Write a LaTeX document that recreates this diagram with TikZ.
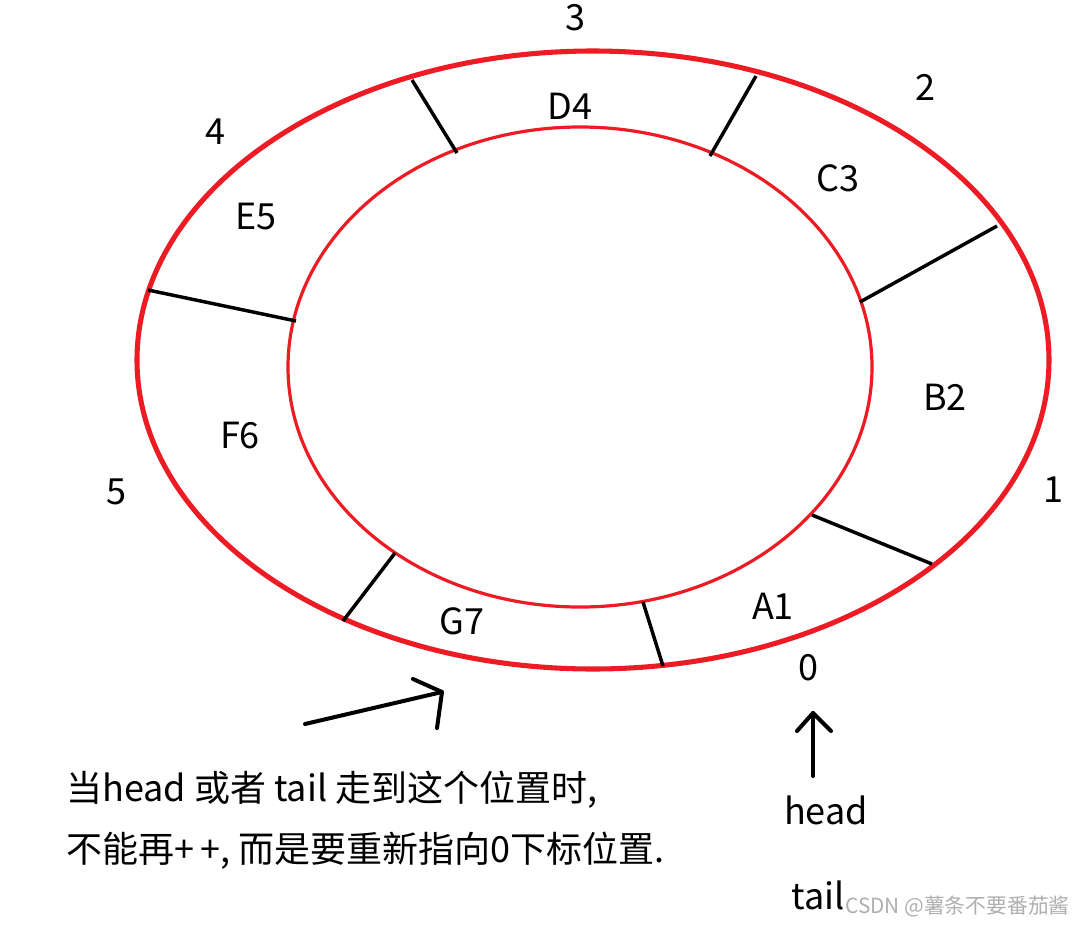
\documentclass[tikz,border=0pt]{standalone}
\usepackage{fontspec}
\setmainfont{Noto Sans CJK SC}
\newfontfamily\cjk{Noto Sans CJK SC}
\definecolor{pred}{RGB}{237,28,36}
\definecolor{wm}{RGB}{175,175,175}
\begin{document}
\begin{tikzpicture}[x=0.75pt,y=-0.75pt,
  lbl/.style={inner sep=0pt,font=\fontsize{27}{32}\selectfont},
  txt/.style={inner sep=0pt,anchor=west,font=\cjk\fontsize{27}{32}\selectfont},
  ring/.style={draw=pred},
  divider/.style={draw=black,line width=2.6pt},
  pen/.style={draw=black,line width=3pt,line cap=round,line join=round}]
\useasboundingbox[fill=white] (0,0) rectangle (1074,925);
% rings
\draw[ring,line width=3.8pt] (593,360) ellipse [x radius=456, y radius=309];
\draw[ring,line width=2.4pt] (580,367) ellipse [x radius=292, y radius=240];
% dividers
\draw[divider] (412,80) -- (457,153);
\draw[divider] (756,76) -- (710,156);
\draw[divider] (997,226) -- (860,302);
\draw[divider] (148,290) -- (296,321);
\draw[divider] (812,515) -- (932,564);
\draw[divider] (643,602) -- (663,666);
\draw[divider] (395,553) -- (343,621);
% index labels
\node[lbl] (i3) at (575,18) {3};
\node[lbl] (i2) at (925,87) {2};
\node[lbl] (i4) at (215,132) {4};
\node[lbl] (i1) at (1053,490) {1};
\node[lbl] (i5) at (116,492) {5};
\node[lbl] (i0) at (808,668) {0};
% cell labels
\node[lbl] (d4) at (570,106) {D4};
\node[lbl] (c3) at (838,178) {C3};
\node[lbl] (e5) at (256,217) {E5};
\node[lbl] (b2) at (945,397) {B2};
\node[lbl] (f6) at (240,436) {F6};
\node[lbl] (a1) at (773,606) {A1};
\node[lbl] (g7) at (462,621) {G7};
% pointer arrow
\coordinate (ps) at (305,724);
\coordinate (pt) at (442,692);
\coordinate (pw1) at (413,679);
\coordinate (pw2) at (437,728);
\draw[pen] (ps) -- (pt);
\draw[pen] (pw1) -- (pt) -- (pw2);
% head arrow
\node[lbl] (head) at (826,810) {head};
\node[lbl] (tail) at (818,895) {tail};
\coordinate (ht) at (813,713);
\coordinate (hb) at (813,776);
\draw[pen] (hb) -- (ht);
\draw[pen] (797,731) -- (ht) -- (831,731);
% explanation
\node[txt] (t1) at (66,790) {当head 或者 tail 走到这个位置时,};
\node[txt] (t2) at (66,851) {不能再+\,+, 而是要重新指向0下标位置.};
% watermark
\node[inner sep=0pt,anchor=east,text=wm,font=\cjk\fontsize{15.6}{19}\selectfont] (wmk) at (1070,907) {CSDN @薯条不要番茄酱};
\end{tikzpicture}
\end{document}
